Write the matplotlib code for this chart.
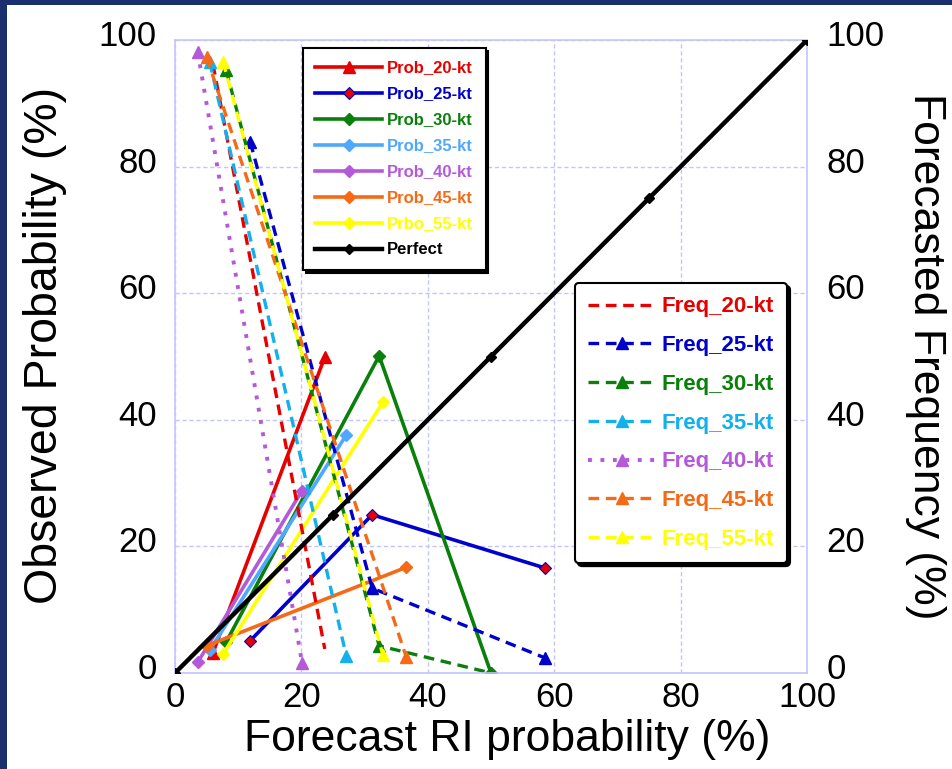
import matplotlib

matplotlib.use("Agg")
import matplotlib.pyplot as plt  # noqa: E402
from matplotlib.patches import Rectangle  # noqa: E402
from matplotlib.transforms import ScaledTranslation  # noqa: E402

plt.rcParams["font.family"] = ["Liberation Sans", "DejaVu Sans"]

# forecast bins (x) and observed probability (y) for each intensity threshold
prob_20_x = [6.0, 23.7]
prob_20_y = [3.2, 49.9]
prob_25_x = [11.9, 31.2, 58.5]
prob_25_y = [5.1, 25.0, 16.6]
prob_30_x = [8.1, 32.3, 50.0]
prob_30_y = [4.9, 50.1, 0.0]
prob_35_x = [5.5, 27.1]
prob_35_y = [3.6, 37.6]
prob_40_x = [3.6, 20.1]
prob_40_y = [1.7, 28.8]
prob_45_x = [5.0, 36.6]
prob_45_y = [4.3, 16.7]
prob_55_x = [7.6, 32.9]
prob_55_y = [3.0, 42.8]
perfect_x = [0, 25, 50, 75, 100]
perfect_y = [0, 25, 50, 75, 100]

# forecasted frequency of each bin
freq_20_y = [96.2, 3.8]
freq_25_y = [83.9, 13.4, 2.4]
freq_30_y = [95.2, 4.3, 0.0]
freq_35_y = [96.5, 2.7]
freq_40_y = [98.1, 1.6]
freq_45_y = [97.3, 2.5]
freq_55_y = [96.6, 2.8]

TICKS = [0, 20, 40, 60, 80, 100]

RED = "#e60000"
BLUE = "#0000cc"
GREEN = "#0a800a"
LBLUE = "#4fa8ff"
CYAN = "#12b0ec"
PURPLE = "#b45ad8"
ORANGE = "#f56a16"
YELLOW = "#ffff00"
GRIDC = "#c4c4ff"

fig = plt.figure(figsize=(9.53, 7.69), dpi=100, facecolor="#1a2f6e")
fig.patches.append(Rectangle((7 / 953, 0), 1, 1 - 5 / 769, transform=fig.transFigure,
                             facecolor="white", edgecolor="none", zorder=-10))
ax = fig.add_axes([175 / 953, 96 / 769, 632 / 953, 633 / 769])
ax.set_xlim(0, 100)
ax.set_ylim(0, 100)
ax.set_xticks(TICKS)
ax.set_yticks(TICKS)
ax.grid(True, color=GRIDC, linestyle=(0, (3, 2)), linewidth=1)
for sp in ax.spines.values():
    sp.set_color(GRIDC)
    sp.set_linewidth(1.2)
ax.tick_params(length=0, labelsize=25)
ax.tick_params(axis="x", pad=6)
ax.tick_params(axis="y", pad=13)

ax2 = ax.twinx()
ax2.set_ylim(0, 100)
ax2.set_yticks(TICKS)
ax2.tick_params(length=0, labelsize=25, pad=14)
for sp in ax2.spines.values():
    sp.set_visible(False)

shift = ScaledTranslation(0, 7 / 100, fig.dpi_scale_trans)
for lab in ax.get_yticklabels() + ax2.get_yticklabels():
    lab.set_transform(lab.get_transform() + shift)

ax.set_xlabel("Forecast RI probability (%)", fontsize=32)
ax.xaxis.set_label_coords(0.525, -0.073)
ax.set_ylabel("Observed Probability (%)", fontsize=33.5)
ax.yaxis.set_label_coords(-0.171, 0.518)
ax2.set_ylabel("Forecasted Frequency (%)", fontsize=32, rotation=-90, labelpad=44)

lw = 2.6
ms_d = 6.5
ms_t = 9
prob_handles = []
prob_handles += ax.plot(prob_20_x, prob_20_y, color=RED, lw=lw, marker="^", ms=ms_t, label="Prob_20-kt")
prob_handles += ax.plot(prob_25_x, prob_25_y, color=BLUE, lw=lw, marker="D", ms=ms_d,
                        mfc=RED, mec=BLUE, mew=0.8, label="Prob_25-kt")
prob_handles += ax.plot(prob_30_x, prob_30_y, color=GREEN, lw=lw, marker="D", ms=ms_d, label="Prob_30-kt")
prob_handles += ax.plot(prob_35_x, prob_35_y, color=LBLUE, lw=lw, marker="D", ms=ms_d, label="Prob_35-kt")
prob_handles += ax.plot(prob_40_x, prob_40_y, color=PURPLE, lw=lw, marker="D", ms=ms_d, label="Prob_40-kt")
prob_handles += ax.plot(prob_45_x, prob_45_y, color=ORANGE, lw=lw, marker="D", ms=ms_d, label="Prob_45-kt")
prob_handles += ax.plot(prob_55_x, prob_55_y, color=YELLOW, lw=lw, marker="D", ms=ms_d, label="Prbo_55-kt")

dash = (0, (3.2, 2))
flw = 2.4
freq_handles = []
freq_handles += ax.plot(prob_20_x, freq_20_y, color=RED, lw=flw, ls=dash, label="Freq_20-kt")
freq_handles += ax.plot(prob_25_x, freq_25_y, color=BLUE, lw=flw, ls=dash, marker="^", ms=ms_t, label="Freq_25-kt")
freq_handles += ax.plot(prob_30_x, freq_30_y, color=GREEN, lw=flw, ls=dash, marker="^", ms=ms_t, label="Freq_30-kt")
freq_handles += ax.plot(prob_35_x, freq_35_y, color=CYAN, lw=flw, ls=dash, marker="^", ms=ms_t, label="Freq_35-kt")
freq_handles += ax.plot(prob_40_x, freq_40_y, color=PURPLE, lw=flw + 0.4, ls=(0, (1, 2.2)), marker="^", ms=ms_t,
                        label="Freq_40-kt")
freq_handles += ax.plot(prob_45_x, freq_45_y, color=ORANGE, lw=flw, ls=dash, marker="^", ms=ms_t, label="Freq_45-kt")
freq_handles += ax.plot(prob_55_x, freq_55_y, color=YELLOW, lw=flw, ls=dash, marker="^", ms=ms_t, label="Freq_55-kt")

prob_handles += ax.plot(perfect_x, perfect_y, color="black", lw=3.2, marker="D", ms=5.5,
                        label="Perfect", zorder=5)

shadow = {"color": "black", "alpha": 1.0}
leg1 = ax.legend(handles=prob_handles, loc="upper left", bbox_to_anchor=(303 / 953, 1 - 48 / 769),
                 bbox_transform=fig.transFigure, borderaxespad=0, fancybox=False, shadow=shadow,
                 framealpha=1, edgecolor="black", prop={"weight": "bold", "size": 12}, handlelength=4,
                 labelspacing=0.66, borderpad=0.75, handletextpad=0.3)
leg1.get_frame().set_linewidth(1.5)
for txt, h in zip(leg1.get_texts(), prob_handles):
    txt.set_color(h.get_color())
ax.add_artist(leg1)

leg2 = ax.legend(handles=freq_handles, loc="upper left", bbox_to_anchor=(575 / 953, 1 - 283 / 769),
                 bbox_transform=fig.transFigure, borderaxespad=0, fancybox=True, shadow=shadow,
                 framealpha=1, edgecolor="black", prop={"weight": "bold", "size": 16}, handlelength=3,
                 labelspacing=0.8, borderpad=0.6, handletextpad=0.3)
leg2.get_frame().set_linewidth(1.5)
for txt, h in zip(leg2.get_texts(), freq_handles):
    txt.set_color(h.get_color())

fig.savefig("out.png", dpi=100, facecolor=fig.get_facecolor())
